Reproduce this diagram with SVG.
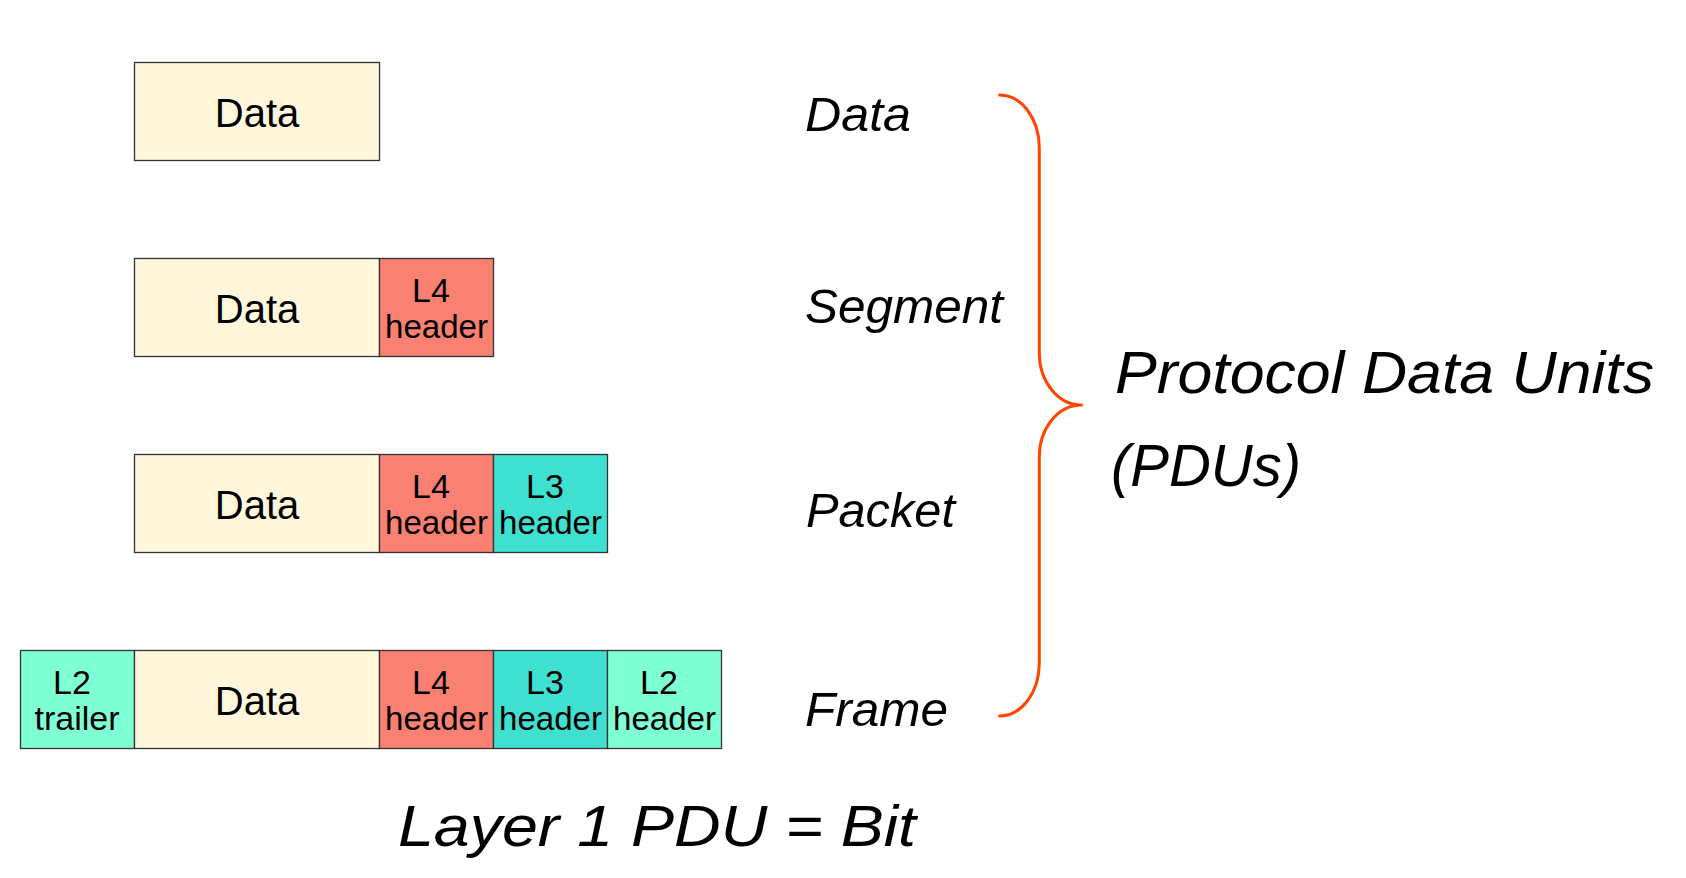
<svg xmlns="http://www.w3.org/2000/svg" width="1686" height="878" viewBox="0 0 1686 878">
  <style>
    .cell { stroke: #333333; stroke-width: 1.3; }
    .data { fill: #FFF6DC; }
    .l4 { fill: #FA8072; }
    .l3 { fill: #40E0D0; }
    .l2 { fill: #7FFFD4; }
    .big { font-family: "Liberation Sans", Arial, sans-serif; font-size: 40px; fill: #000; text-anchor: middle; }
    .small { font-family: "Liberation Sans", Arial, sans-serif; font-size: 34px; fill: #000; text-anchor: middle; }
    .hand { font-family: "Segoe Print", "Comic Sans MS", "Liberation Sans", sans-serif; font-style: italic; fill: #000; }
    .brace { fill: none; stroke: #FF4500; stroke-width: 3; stroke-linecap: round; stroke-linejoin: round; }
  </style>

  <!-- Row 1: application data -->
  <g id="row-data">
    <rect class="cell data" x="134.5" y="62.5" width="245" height="98"/>
    <text class="big" x="257" y="127">Data</text>
  </g>

  <!-- Row 2: segment = data + L4 header -->
  <g id="row-segment">
    <rect class="cell data" x="134.5" y="258.5" width="245" height="98"/>
    <text class="big" x="257" y="323">Data</text>
    <rect class="cell l4" x="379.5" y="258.5" width="114" height="98"/>
    <text class="small" x="431" y="301.5">L4</text>
    <text class="small" x="436.5" y="338" textLength="103" lengthAdjust="spacingAndGlyphs">header</text>
  </g>

  <!-- Row 3: packet = segment + L3 header -->
  <g id="row-packet">
    <rect class="cell data" x="134.5" y="454.5" width="245" height="98"/>
    <text class="big" x="257" y="519">Data</text>
    <rect class="cell l4" x="379.5" y="454.5" width="114" height="98"/>
    <text class="small" x="431" y="497.5">L4</text>
    <text class="small" x="436.5" y="534" textLength="103" lengthAdjust="spacingAndGlyphs">header</text>
    <rect class="cell l3" x="493.5" y="454.5" width="114" height="98"/>
    <text class="small" x="545" y="497.5">L3</text>
    <text class="small" x="550.5" y="534" textLength="103" lengthAdjust="spacingAndGlyphs">header</text>
  </g>

  <!-- Row 4: frame = L2 trailer + packet + L2 header -->
  <g id="row-frame">
    <rect class="cell l2" x="20.5" y="650.5" width="114" height="98"/>
    <text class="small" x="72" y="693.5">L2</text>
    <text class="small" x="77" y="730" textLength="85" lengthAdjust="spacingAndGlyphs">trailer</text>
    <rect class="cell data" x="134.5" y="650.5" width="245" height="98"/>
    <text class="big" x="257" y="715">Data</text>
    <rect class="cell l4" x="379.5" y="650.5" width="114" height="98"/>
    <text class="small" x="431" y="693.5">L4</text>
    <text class="small" x="436.5" y="730" textLength="103" lengthAdjust="spacingAndGlyphs">header</text>
    <rect class="cell l3" x="493.5" y="650.5" width="114" height="98"/>
    <text class="small" x="545" y="693.5">L3</text>
    <text class="small" x="550.5" y="730" textLength="103" lengthAdjust="spacingAndGlyphs">header</text>
    <rect class="cell l2" x="607.5" y="650.5" width="114" height="98"/>
    <text class="small" x="659" y="693.5">L2</text>
    <text class="small" x="664.5" y="730" textLength="103" lengthAdjust="spacingAndGlyphs">header</text>
  </g>

  <!-- PDU names -->
  <g id="pdu-names">
    <text class="hand" x="805" y="131" font-size="48" textLength="106" lengthAdjust="spacingAndGlyphs">Data</text>
    <text class="hand" x="805" y="323" font-size="48" textLength="198" lengthAdjust="spacingAndGlyphs">Segment</text>
    <text class="hand" x="806" y="527" font-size="48" textLength="149" lengthAdjust="spacingAndGlyphs">Packet</text>
    <text class="hand" x="805" y="726" font-size="48" textLength="143" lengthAdjust="spacingAndGlyphs">Frame</text>
  </g>

  <!-- Curly brace grouping the four PDU names -->
  <g id="connectors">
    <path class="brace" d="M 999.5 95 C 1021.6 95, 1039.3 118.7, 1039.3 148 L 1039.3 353 C 1039.3 381.7, 1058 405, 1081.5 405 C 1058 405, 1039.3 428.3, 1039.3 457 L 1039.3 663 C 1039.3 692.3, 1021.6 716, 999.5 716"/>
  </g>

  <!-- Brace caption -->
  <g id="pdu-title">
    <text class="hand" x="1115" y="393" font-size="60" textLength="539" lengthAdjust="spacingAndGlyphs">Protocol Data Units</text>
    <text class="hand" x="1111" y="486" font-size="60" textLength="190" lengthAdjust="spacingAndGlyphs">(PDUs)</text>
  </g>

  <!-- Footer note -->
  <g id="layer1-note">
    <text class="hand" x="398" y="846" font-size="58" textLength="518" lengthAdjust="spacingAndGlyphs">Layer 1 PDU = Bit</text>
  </g>
</svg>
